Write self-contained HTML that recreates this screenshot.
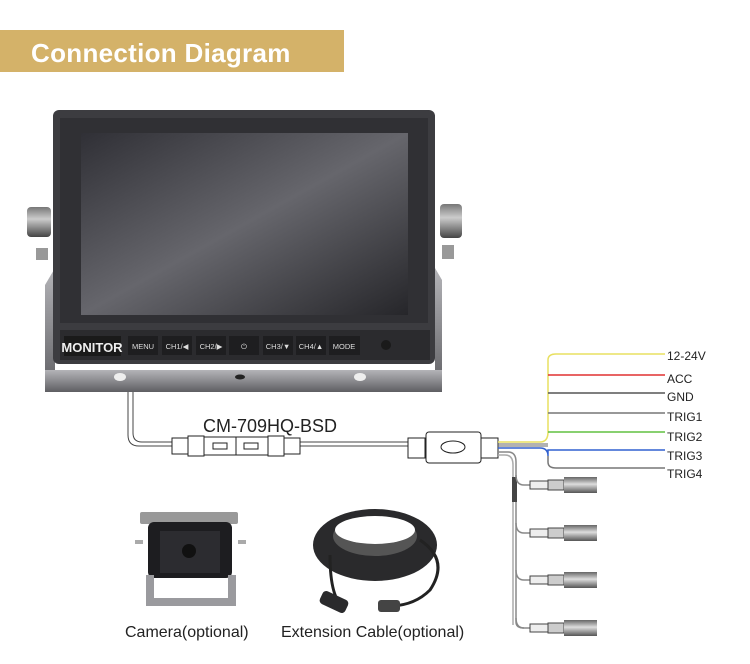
<!DOCTYPE html>
<html><head><meta charset="utf-8"><style>
html,body{margin:0;padding:0;background:#fff;}
svg{display:block;font-family:"Liberation Sans",Arial,sans-serif;}
</style></head><body>
<svg width="750" height="664" viewBox="0 0 750 664" xmlns="http://www.w3.org/2000/svg">
<defs>
<linearGradient id="scr" x1="0" y1="0" x2="1" y2="1">
<stop offset="0" stop-color="#303036"/><stop offset="0.5" stop-color="#66666c"/><stop offset="1" stop-color="#26262a"/></linearGradient>
<linearGradient id="brk" x1="0" y1="0" x2="0" y2="1">
<stop offset="0" stop-color="#b4b4b8"/><stop offset="0.5" stop-color="#8a8a8e"/><stop offset="1" stop-color="#5e5e62"/></linearGradient>
<linearGradient id="knob" x1="0" y1="0" x2="0" y2="1">
<stop offset="0" stop-color="#777"/><stop offset="0.4" stop-color="#ccc"/><stop offset="1" stop-color="#444"/></linearGradient>
<linearGradient id="conn" x1="0" y1="0" x2="0" y2="1">
<stop offset="0" stop-color="#666"/><stop offset="0.45" stop-color="#ddd"/><stop offset="1" stop-color="#555"/></linearGradient>
</defs>
<rect x="0" y="30" width="344" height="42" fill="#d4b269"/>
<text x="31" y="62" font-size="26" font-weight="bold" fill="#fff" style="letter-spacing:0.3px">Connection Diagram</text>

<rect x="27" y="207" width="24" height="30" rx="4" fill="url(#knob)"/>
<rect x="440" y="204" width="22" height="34" rx="4" fill="url(#knob)"/>
<rect x="36" y="248" width="12" height="12" fill="#999"/>
<rect x="442" y="245" width="12" height="14" fill="#999"/>
<path d="M45 285 L55 268 L55 378 L435 378 L435 268 L442 280 L442 392 L45 392 Z" fill="url(#brk)"/>
<rect x="45" y="370" width="397" height="22" fill="url(#brk)"/>
<ellipse cx="120" cy="377" rx="6" ry="4" fill="#eee"/>
<ellipse cx="240" cy="377" rx="5" ry="2.5" fill="#222"/>
<ellipse cx="360" cy="377" rx="6" ry="4" fill="#eee"/>
<rect x="53" y="110" width="382" height="254" rx="6" fill="#3c3c40"/>
<rect x="60" y="118" width="368" height="205" fill="#303034"/>
<rect x="81" y="133" width="327" height="182" fill="url(#scr)"/>
<rect x="60" y="330" width="370" height="30" fill="#2b2b2e"/>
<rect x="64" y="336" width="57" height="20" fill="#1a1a1a"/>
<text x="92" y="352" font-size="13" fill="#eee" text-anchor="middle" font-weight="bold">MONITOR</text>
<g font-size="7.5" fill="#ddd" text-anchor="middle">
<rect x="128" y="336" width="30" height="19" fill="#1e1e20"/><text x="143" y="349">MENU</text>
<rect x="162" y="336" width="30" height="19" fill="#1e1e20"/><text x="177" y="349">CH1/◀</text>
<rect x="196" y="336" width="30" height="19" fill="#1e1e20"/><text x="211" y="349">CH2/▶</text>
<rect x="229" y="336" width="30" height="19" fill="#1e1e20"/><text x="244" y="349">⏻</text>
<rect x="263" y="336" width="30" height="19" fill="#1e1e20"/><text x="278" y="349">CH3/▼</text>
<rect x="296" y="336" width="30" height="19" fill="#1e1e20"/><text x="311" y="349">CH4/▲</text>
<rect x="329" y="336" width="31" height="19" fill="#1e1e20"/><text x="344" y="349">MODE</text>
</g>
<circle cx="386" cy="345" r="5" fill="#1a1a1a"/>

<path d="M128 392 V435 Q128 446 139 446 H425" fill="none" stroke="#444" stroke-width="1" />
<path d="M133 392 V433 Q133 442 142 442 H425" fill="none" stroke="#444" stroke-width="1"/>
<g fill="#fff" stroke="#222" stroke-width="1">
<rect x="172" y="438" width="16" height="16"/>
<rect x="188" y="436" width="16" height="20"/>
<rect x="204" y="437" width="32" height="18"/>
<rect x="236" y="437" width="32" height="18"/>
<rect x="268" y="436" width="16" height="20"/>
<rect x="284" y="438" width="16" height="16"/>
<rect x="213" y="443" width="14" height="6"/>
<rect x="244" y="443" width="14" height="6"/>
</g>
<text x="203" y="432" font-size="18" fill="#222">CM-709HQ-BSD</text>

<g fill="#fff" stroke="#222" stroke-width="1">
<rect x="408" y="438" width="17" height="20"/>
<rect x="426" y="432" width="55" height="31" rx="3"/>
<ellipse cx="453" cy="447" rx="12" ry="6"/>
<rect x="481" y="438" width="17" height="20"/>
</g>
<g fill="none" stroke-width="1.5">
<path d="M498 444 H548" stroke="#666" stroke-width="1"/>
<path d="M498 446 H548" stroke="#666" stroke-width="1"/>
<path d="M498 442 H540 Q548 442 548 432 V360 Q548 354 556 354 H665" stroke="#e8e060"/>
<path d="M548 375 H665" stroke="#e03030"/>
<path d="M548 393 H665" stroke="#555"/>
<path d="M548 413 H665" stroke="#777"/>
<path d="M548 432 H665" stroke="#60c040"/>
<path d="M498 448 H540 Q548 448 548 456 V450 H665" stroke="#3060d0"/>
<path d="M548 456 V462 Q548 468 556 468 H665" stroke="#777"/>
<path d="M498 452 H508 Q516 452 516 462 V622 Q516 628 524 628" stroke="#888"/>
<path d="M498 455 H505 Q513 455 513 465 V625" stroke="#aaa"/>
</g>
<g font-size="12" fill="#222">
<text x="667" y="360">12-24V</text>
<text x="667" y="383">ACC</text>
<text x="667" y="401">GND</text>
<text x="667" y="421">TRIG1</text>
<text x="667" y="441">TRIG2</text>
<text x="667" y="460">TRIG3</text>
<text x="667" y="478">TRIG4</text>
</g>
<g>
<rect x="512" y="477" width="5" height="25" fill="#444"/>
<g id="cc">
<path d="M516 475 Q516 485 524 485 H530" fill="none" stroke="#888" stroke-width="1.5"/>
<rect x="530" y="481" width="18" height="8" fill="#eee" stroke="#444"/>
<rect x="548" y="480" width="16" height="10" fill="#ccc" stroke="#444"/>
<rect x="564" y="477" width="33" height="16" fill="url(#conn)"/>
</g>
<use href="#cc" y="48"/>
<use href="#cc" y="95"/>
<use href="#cc" y="143"/>
</g>

<rect x="140" y="512" width="98" height="12" fill="#999" rx="2"/>
<rect x="148" y="522" width="84" height="56" rx="6" fill="#1d1d20"/>
<rect x="160" y="531" width="60" height="42" fill="#2c2c30"/>
<circle cx="189" cy="551" r="7" fill="#111"/>
<path d="M146 575 V606 H236 V575 H228 V598 H154 V575 Z" fill="#9a9a9e"/>
<rect x="135" y="540" width="8" height="4" fill="#aaa"/><rect x="238" y="540" width="8" height="4" fill="#aaa"/>
<ellipse cx="375" cy="545" rx="62" ry="36" fill="#2a2a2c"/>
<ellipse cx="375" cy="536" rx="42" ry="20" fill="#555"/>
<ellipse cx="375" cy="530" rx="40" ry="14" fill="#fff"/>
<path d="M330 555 Q330 600 345 608 M420 540 Q450 560 430 590 Q415 605 392 606" fill="none" stroke="#222" stroke-width="3"/>
<rect x="320" y="595" width="28" height="14" rx="4" fill="#2a2a2c" transform="rotate(25 334 602)"/>
<rect x="378" y="600" width="22" height="12" rx="3" fill="#444"/>

<g font-size="16" fill="#222">
<text x="125" y="637">Camera(optional)</text>
<text x="281" y="637">Extension Cable(optional)</text>
</g>
</svg>
</body></html>
